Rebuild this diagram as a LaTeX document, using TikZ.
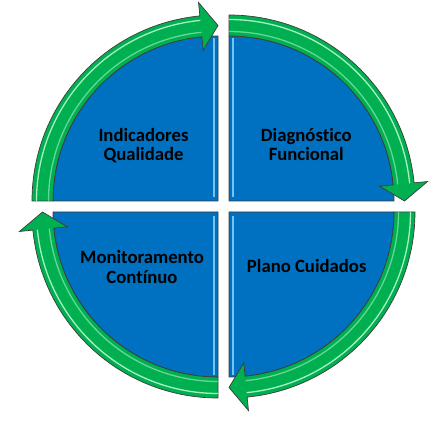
\documentclass[tikz,border=0pt]{standalone}
\usepackage{fontspec}
\setmainfont{Carlito}[RawFeature={-liga}]
\definecolor{qblue}{HTML}{0070C0}
\definecolor{qlight}{HTML}{72C4F6}
\definecolor{agreen}{HTML}{00B050}
\definecolor{alight}{HTML}{A8F0C4}
\definecolor{edgegray}{HTML}{3C3C3C}
\tikzset{
  quad/.style={fill=qblue, draw=edgegray, line width=0.8pt},
  quadhl/.style={draw=qlight, line width=2pt},
  cyc/.style={fill=agreen, draw=edgegray, line width=0.7pt, line join=miter},
  cychl/.style={draw=alight, line width=1.3pt},
  lbl/.style={font=\bfseries\fontsize{18.7}{19.5}\selectfont, align=center, text=black, inner sep=0pt}
}
\newcommand\cycarrow[3]{%
  \pgfmathsetmacro\cab{#3+5.6}%
  \draw[cyc] ([shift={(#2:186pt)}]#1) arc[start angle=#2, end angle=\cab, radius=186pt]
    -- ([shift={(\cab:199.5pt)}]#1) -- ([shift={(#3:175.5pt)}]#1)
    -- ([shift={(\cab:151.5pt)}]#1) -- ([shift={(\cab:165pt)}]#1)
    arc[start angle=\cab, end angle=#2, radius=165pt] -- cycle;
  \draw[cychl] ([shift={(#2:181.5pt)}]#1) arc[start angle=#2, end angle=\cab, radius=181.5pt];
  \draw[cychl, draw opacity=0.6] ([shift={(#2:169.5pt)}]#1) arc[start angle=#2, end angle=\cab, radius=169.5pt];
}
\begin{document}
\begin{tikzpicture}[x=1pt,y=1pt]
\useasboundingbox (0,0) rectangle (445,429);
\coordinate (cTL) at (218,228);
\coordinate (cTR) at (229,228);
\coordinate (cBL) at (218,217);
\coordinate (cBR) at (229,217);
% quadrants
\draw[quad] (cTL) -- ++(180:165pt) arc[start angle=180, end angle=90, radius=165pt] -- cycle;
\draw[quad] (cTR) -- ++(90:165pt) arc[start angle=90, end angle=0, radius=165pt] -- cycle;
\draw[quad] (cBR) -- ++(0:165pt) arc[start angle=0, end angle=-90, radius=165pt] -- cycle;
\draw[quad] (cBL) -- ++(-90:165pt) arc[start angle=-90, end angle=-180, radius=165pt] -- cycle;
% highlight strips
\draw[quadhl] ([shift={(-4,4)}]cTL) -- ([shift={(-4,163)}]cTL);
\draw[quadhl] ([shift={(4,4)}]cTR) -- ([shift={(4,163)}]cTR);
\draw[quadhl] ([shift={(-4,-4)}]cBL) -- ([shift={(-4,-163)}]cBL);
\draw[quadhl] ([shift={(4,-4)}]cBR) -- ([shift={(4,-163)}]cBR);
% cycle arrows
\cycarrow{cTR}{90}{0}
\cycarrow{cBR}{0}{-90}
\cycarrow{cBL}{-90}{-180}
\cycarrow{cTL}{180}{90}
% labels (base = baseline of last line)
\node[lbl, anchor=base] (tl) at (143.5,268) {Indicadores\\Qualidade};
\node[lbl, anchor=base] (tr) at (306.3,268) {Diagnóstico\\Funcional};
\node[lbl, anchor=base] (bl) at (142,145.7) {Monitoramento\\Contínuo};
\node[lbl, anchor=base] (br) at (306.7,156.7) {Plano Cuidados};
\end{tikzpicture}
\end{document}
